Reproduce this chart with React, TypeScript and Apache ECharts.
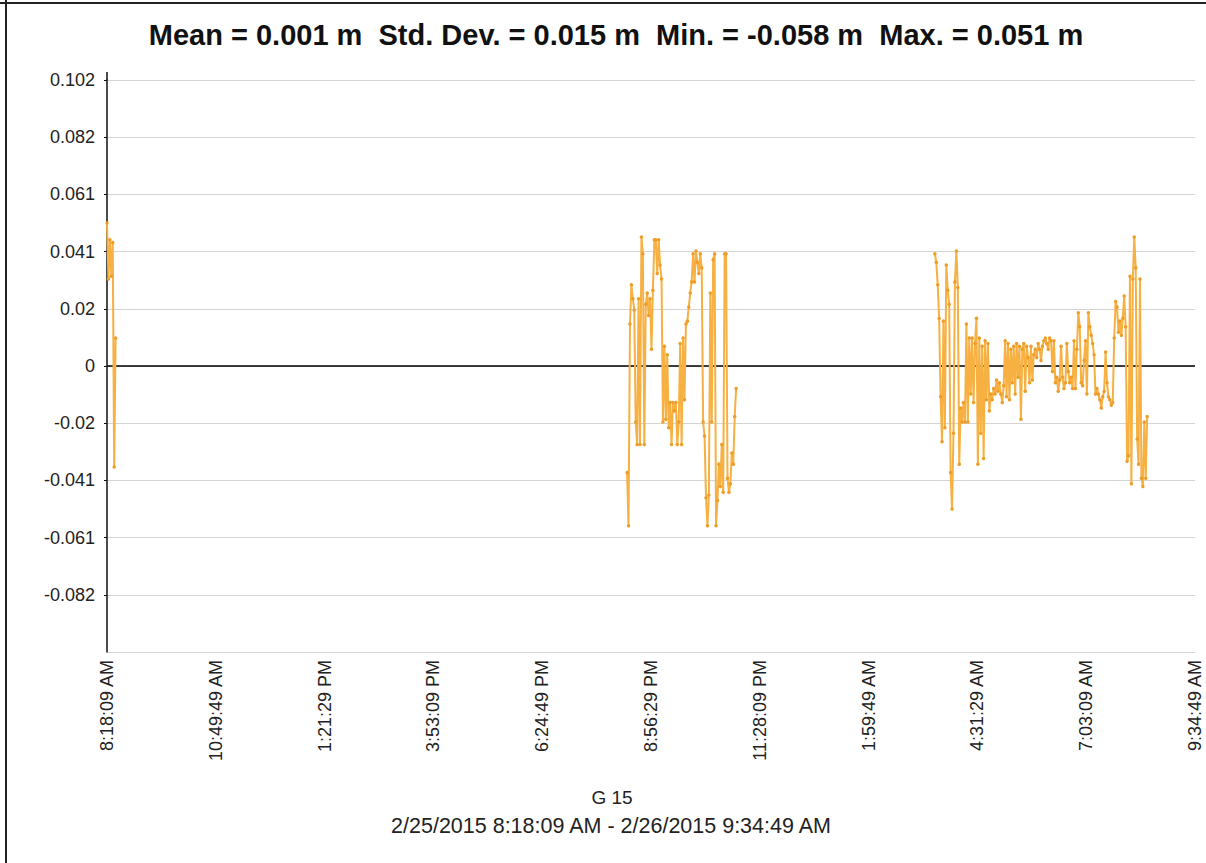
import React, { useEffect, useRef } from "react";
import * as echarts from "echarts";

// Time axis: seconds elapsed since 2/25/2015 8:18:09 AM
const START_CLOCK_SEC = 8 * 3600 + 18 * 60 + 9;
const X_MAX_SEC = 91000; // 2/26/2015 9:34:49 AM
const X_TICK_SEC = 9100;
const SAMPLE_STEP_SEC = 120;

// Y axis (m)
const Y_MIN = -0.102;
const Y_MAX = 0.102;
const Y_TICK = 0.0204;

const TITLE = "Mean = 0.001 m  Std. Dev. = 0.015 m  Min. = -0.058 m  Max. = 0.051 m";
const SAT_NAME = "G 15";
const DATE_RANGE = "2/25/2015 8:18:09 AM - 2/26/2015 9:34:49 AM";

// Tracking pass 1
const pass1Start = 0;
const pass1Values = [0.051, 0.031, 0.045, 0.032, 0.044, -0.036, 0.010];

// Tracking pass 2
const pass2Start = 43500;
const pass2Values = [
  -0.038, -0.057, 0.015, 0.029, 0.024, 0.020, -0.020, -0.028, 0.024, -0.028,
  0.046, 0.040, -0.028, 0.022, 0.026, 0.018, 0.024, 0.006, 0.027, 0.045,
  0.045, 0.033, 0.045, 0.036, 0.031, -0.020, 0.007, -0.019, 0.004, -0.022,
  -0.013, -0.028, -0.013, -0.016, -0.013, -0.028, -0.020, 0.008, -0.028, 0.010,
  -0.012, 0.015, 0.016, 0.021, 0.026, 0.030, 0.040, 0.030, 0.041, 0.037,
  0.033, 0.040, 0.035, -0.020, -0.025, -0.047, -0.057, -0.046, 0.026, -0.020,
  0.038, 0.040, -0.057, -0.048, -0.035, -0.043, -0.028, -0.045, 0.040, 0.040,
  -0.040, -0.045, -0.042, -0.031, -0.035, -0.018, -0.008,
];

// Tracking pass 3
const pass3Start = 69240;
const pass3Values = [
  0.040, 0.037, 0.029, 0.017, -0.011, -0.027, 0.016, -0.022, 0.036, 0.027,
  0.022, -0.038, -0.051, -0.024, 0.030, 0.041, 0.028, -0.035, -0.015, -0.020,
  -0.013, -0.020, 0.015, -0.020, 0.010, -0.010, 0.010, -0.013, 0.008, 0.017,
  -0.035, 0.010, -0.024, 0.007, -0.033, 0.009, -0.012, 0.008, -0.016, -0.010,
  -0.012, -0.008, -0.010, -0.005, -0.009, -0.006, -0.010, -0.013, -0.007, 0.009,
  -0.011, 0.008, -0.012, 0.006, -0.006, 0.007, -0.010, 0.008, -0.004, 0.007,
  -0.019, 0.006, 0.008, -0.009, 0.007, 0.003, -0.006, 0.007, -0.005, 0.004,
  0.006, 0.003, 0.008, 0.006, 0.002, 0.007, 0.009, 0.010, 0.008, 0.006,
  0.010, 0.009, -0.002, 0.009, -0.006, -0.004, -0.009, -0.005, 0.007, -0.004,
  -0.008, -0.006, 0.008, -0.002, -0.006, -0.004, -0.008, 0.009, -0.008, 0.006,
  0.019, 0.014, -0.006, -0.007, 0.002, 0.009, -0.010, 0.019, 0.014, 0.011,
  0.008, 0.004, -0.010, -0.008, -0.010, -0.012, -0.015, -0.011, -0.009, 0.005,
  -0.006, -0.011, -0.012, -0.014, -0.013, 0.010, 0.023, 0.021, 0.012, 0.016,
  0.011, 0.017, 0.025, 0.014, -0.034, -0.032, 0.032, -0.042, 0.031, 0.046,
  0.035, -0.026, -0.035, 0.031, -0.040, -0.043, -0.020, -0.040, -0.018,
];

const passes = [
  { start: pass1Start, values: pass1Values },
  { start: pass2Start, values: pass2Values },
  { start: pass3Start, values: pass3Values },
];

function clockLabel(offset: number): string {
  const t = Math.round(START_CLOCK_SEC + offset) % 86400;
  const h24 = Math.floor(t / 3600);
  const m = Math.floor((t % 3600) / 60);
  const s = t % 60;
  const ampm = h24 < 12 ? "AM" : "PM";
  let h = h24 % 12;
  if (h === 0) h = 12;
  const pad = (n: number) => (n < 10 ? "0" + n : String(n));
  return `${h}:${pad(m)}:${pad(s)} ${ampm}`;
}

function yLabel(v: number): string {
  const r = Math.round(v * 1000) / 1000;
  if (Math.abs(r) < 1e-9) return "0";
  return String(r);
}

const FONT = "'Liberation Sans', Arial, sans-serif";
const LINE_COLOR = "#F7B042";
const POINT_COLOR = "#EE9E28";

export default function App() {
  const ref = useRef<HTMLDivElement>(null);

  useEffect(() => {
    if (!ref.current) return;
    const chart = echarts.init(ref.current, undefined, { renderer: "svg" });

    const series: any[] = passes.map((p, idx) => ({
      type: "line",
      data: p.values.map((v, i) => [p.start + i * SAMPLE_STEP_SEC, v]),
      showSymbol: true,
      symbol: "circle",
      symbolSize: 3.5,
      lineStyle: { color: LINE_COLOR, width: 2 },
      itemStyle: { color: POINT_COLOR },
      silent: true,
      z: 3,
      markLine:
        idx === 0
          ? {
              silent: true,
              symbol: "none",
              label: { show: false },
              lineStyle: { color: "#000", width: 1.5, type: "solid" },
              data: [{ yAxis: 0 }],
              z: 2,
            }
          : undefined,
    }));

    chart.setOption({
      animation: false,
      backgroundColor: "#ffffff",
      textStyle: { fontFamily: FONT },
      title: {
        text: TITLE,
        left: 611,
        top: 15,
        textAlign: "center",
        textStyle: { fontFamily: FONT, fontSize: 29, fontWeight: "bold", color: "#111" },
      },
      grid: { left: 107, right: 11, top: 80, bottom: 211, containLabel: false },
      xAxis: {
        type: "value",
        min: 0,
        max: X_MAX_SEC,
        interval: X_TICK_SEC,
        axisLine: { show: false },
        axisTick: { show: false },
        splitLine: { show: false },
        axisLabel: {
          rotate: 90,
          margin: 8,
          fontSize: 18,
          color: "#222",
          fontFamily: FONT,
          showMinLabel: true,
          showMaxLabel: true,
          formatter: (v: number) => clockLabel(v),
        },
      },
      yAxis: {
        type: "value",
        min: Y_MIN,
        max: Y_MAX,
        interval: Y_TICK,
        axisLine: { show: true, onZero: false, lineStyle: { color: "#111", width: 1.5 } },
        axisTick: { show: true, length: 3, lineStyle: { color: "#111" } },
        splitLine: { show: true, lineStyle: { color: "#d4d4d4", width: 1 } },
        axisLabel: {
          margin: 12,
          fontSize: 18,
          color: "#222",
          fontFamily: FONT,
          showMinLabel: false,
          formatter: (v: number) => yLabel(v),
        },
      },
      graphic: [
        {
          type: "line",
          shape: { x1: 6, y1: 0, x2: 6, y2: 863 },
          style: { stroke: "#222", lineWidth: 2 },
          silent: true,
        },
        {
          type: "line",
          shape: { x1: 0, y1: 3, x2: 1206, y2: 3 },
          style: { stroke: "#222", lineWidth: 2 },
          silent: true,
        },
        {
          type: "line",
          shape: { x1: 107, y1: 72, x2: 107, y2: 80 },
          style: { stroke: "#111", lineWidth: 1.5 },
          silent: true,
        },
        {
          type: "text",
          x: 612,
          y: 797,
          style: {
            text: SAT_NAME,
            fontSize: 19,
            fontFamily: FONT,
            fill: "#222",
            textAlign: "center",
            textVerticalAlign: "middle",
          },
          silent: true,
        },
        {
          type: "text",
          x: 611,
          y: 826,
          style: {
            text: DATE_RANGE,
            fontSize: 21.5,
            fontFamily: FONT,
            fill: "#222",
            textAlign: "center",
            textVerticalAlign: "middle",
          },
          silent: true,
        },
      ],
      series,
    });

    return () => chart.dispose();
  }, []);

  return (
    <div
      ref={ref}
      style={{ position: "fixed", left: 0, top: 0, width: 1206, height: 863, background: "#fff" }}
    />
  );
}
